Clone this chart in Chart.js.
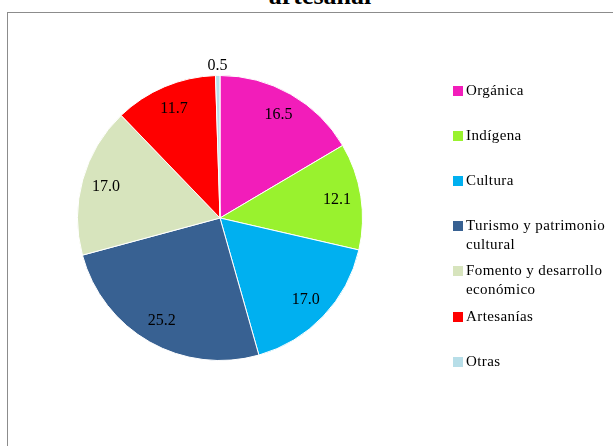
<!DOCTYPE html>
<html>
<head>
<meta charset="utf-8">
<script src="https://cdn.jsdelivr.net/npm/chart.js@4.4.0/dist/chart.umd.min.js"></script>
<style>
    body { margin: 0; background: #fff; width: 613px; height: 446px; overflow: hidden; position: relative; font-family: "Liberation Serif", serif; }
    #title { position: absolute; left: 0; width: 640px; top: -17px; text-align: center; font-weight: bold; font-size: 26px; line-height: 26px; }
    #frame { position: absolute; left: 7px; top: 12px; width: 640px; height: 460px; border: 1.5px solid #8c8c8c; }
    #chart-wrap { position: absolute; left: 0; top: 0; width: 613px; height: 446px; }
    .legend-item { position: absolute; left: 453px; width: 158px; font-size: 15px; letter-spacing: 0.4px; line-height: 19px; color: #000; }
    .legend-item span.box { position: absolute; left: 0; top: 5px; width: 10px; height: 10px; }
    .legend-item span.text { display: block; margin-left: 13px; }
</style>
</head>
<body>
<div id="title">artesanal</div>
<div id="frame"></div>
<div id="chart-wrap"><canvas id="pie-chart"></canvas></div>
<div id="legend"></div>
<script>
const categories = ['Orgánica', 'Indígena', 'Cultura', 'Turismo y patrimonio cultural', 'Fomento y desarrollo económico', 'Artesanías', 'Otras'];
const values = [16.5, 12.1, 17.0, 25.2, 17.0, 11.7, 0.5];
const colors = ['#f21dba', '#99f22e', '#00b0f0', '#386192', '#d7e4bd', '#ff0000', '#b7dee8'];

// etiquetas de valor dentro de cada porción
const valueLabels = {
    id: 'valueLabels',
    afterDatasetsDraw(chart) {
        const ctx = chart.ctx;
        const meta = chart.getDatasetMeta(0);
        ctx.save();
        ctx.font = '16px "Liberation Serif", serif';
        ctx.fillStyle = '#000';
        ctx.textAlign = 'center';
        ctx.textBaseline = 'middle';
        meta.data.forEach((arc, i) => {
            const p = arc.getProps(['x', 'y', 'startAngle', 'endAngle', 'outerRadius']);
            const mid = (p.startAngle + p.endAngle) / 2;
            const r = values[i] < 2 ? p.outerRadius + 10 : p.outerRadius * 0.83;
            ctx.fillText(values[i].toFixed(1), p.x + Math.cos(mid) * r, p.y + Math.sin(mid) * r);
        });
        ctx.restore();
    }
};

function buildLegend() {
    const legend = document.getElementById('legend');
    categories.forEach((name, i) => {
        const item = document.createElement('div');
        item.className = 'legend-item';
        item.style.top = (80.5 + i * 45.2) + 'px';
        item.innerHTML = '<span class="box" style="background:' + colors[i] + '"></span><span class="text">' + name + '</span>';
        legend.appendChild(item);
    });
}

const ctx = document.getElementById('pie-chart').getContext('2d');
const pieChart = new Chart(ctx, {
    type: 'pie',
    data: {
        labels: categories,
        datasets: [{
            data: values,
            backgroundColor: colors,
            borderColor: '#ffffff',
            borderWidth: 1
        }]
    },
    options: {
        responsive: true,
        maintainAspectRatio: false,
        animation: false,
        layout: { padding: { left: 77, top: 75, right: 250, bottom: 85 } },
        plugins: {
            legend: { display: false },
            tooltip: { enabled: false }
        }
    },
    plugins: [valueLabels]
});

buildLegend();
</script>
</body>
</html>
